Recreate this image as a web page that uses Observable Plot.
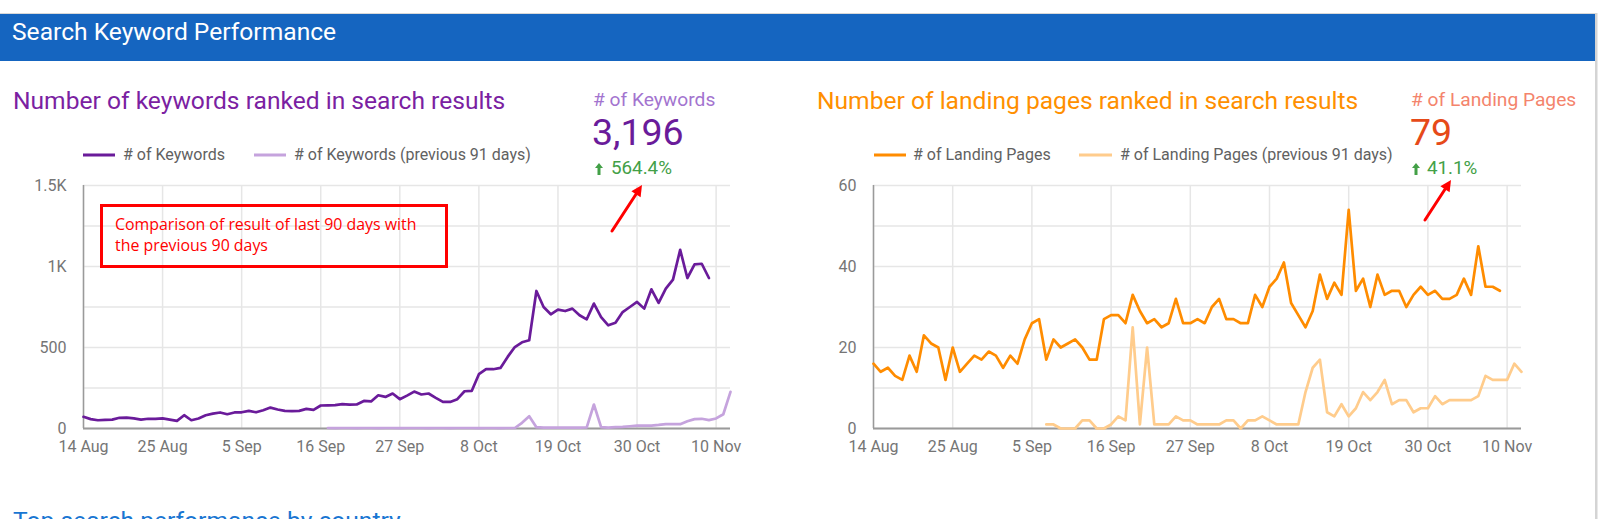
<!DOCTYPE html>
<html><head><meta charset="utf-8">
<script src="https://cdn.jsdelivr.net/npm/d3@7"></script>
<script src="https://cdn.jsdelivr.net/npm/@observablehq/plot@0.6"></script>
<style>
html,body{margin:0;padding:0;background:#fff;}
#page{position:relative;width:1600px;height:519px;overflow:hidden;font-family:Roboto,sans-serif;}
.chart{position:absolute;top:170px;}
#overlay{position:absolute;left:0;top:0;pointer-events:none;}
#overlay text{font-family:Roboto,sans-serif;}
</style></head><body><div id="page">
<div id="left" class="chart" style="left:0px"></div>
<div id="right" class="chart" style="left:790px"></div>
<svg id="overlay" width="1600" height="519"></svg>
</div>
<script>
// ---------- data ----------
const domainDates = ["2019-08-14", "2019-11-12"];
const xTickDates = ["2019-08-14","2019-08-25","2019-09-05","2019-09-16","2019-09-27","2019-10-08","2019-10-19","2019-10-30","2019-11-10"];
const xTickLabels = ["14 Aug","25 Aug","5 Sep","16 Sep","27 Sep","8 Oct","19 Oct","30 Oct","10 Nov"];

const keywordsStart = "2019-08-14";
const keywords = [72,58,51,53,55,66,67,62,55,60, 60,62,55,47,82,51,62,82,92,99,
  88,99,100,109,100,113,129,117,109,107, 109,121,115,142,143,144,150,147,148,170,
  167,205,195,216,181,203,228,210,216,189, 164,164,181,230,232,335,366,366,374,442,
  503,532,545,849,750,705,734,725,740,699, 674,771,688,637,653,719,750,781,740,859,
  775,863,919,1103,929,1013,1017,929];
const keywordsPrevStart = "2019-09-17";
const keywordsPrev = [3,2,3,3,2,3,3,2,3,3, 2,3,3,3,2,3,3,2,3,3, 3,2,3,3,2,3,
  3,35,76,8,6,6,5,6,6,6, 7,148,8,6,8,10,14,18,18,18, 22,27,27,27,45,58,60,52,62,88,226];
const yTicksLeft = [0,500,1000,1500];
const yLabelsLeft = ["0","500","1K","1.5K"];
const yGridLeft = [0,250,500,750,1000,1250,1500];

const pagesStart = "2019-08-14";
const pages = [16,14,15,13,12,18,14,23,21,20, 12,20,14,16,18,17,19,18,15,18,
  16,22,26,27,17,22,20,21,22,20, 17,17,27,28,28,26,33,29,26,27,
  25,26,32,26,26,27,26,30,32,27, 27,26,26,33,30,35,37,41,31,28,
  25,29,38,32,36,33,54,34,37,30, 38,33,34,34,30,33,35,33,34,32,
  32,33,37,33,45,35,35,34];
const pagesPrevStart = "2019-09-07";
const pagesPrev = [1,1,0,0,0,2,2,0,0,1, 3,2,25,1,20,1,1,1,3,2,
  2,1,1,1,1,2,2,0,2,2, 3,2,1,1,1,1,9,15,17,4,
  3,6,3,5,9,7,9,12,6,7, 7,4,5,5,8,6,7,7,7,7, 8,13,12,12,12,16,14];
const yTicksRight = [0,20,40,60];
const yLabelsRight = ["0","20","40","60"];
const yGridRight = [0,10,20,30,40,50,60];

// ---------- helpers ----------
const toDate = s => new Date(s + "T00:00:00Z");
function series(startStr, values) {
  const t0 = toDate(startStr).getTime();
  return values.map((v, i) => ({date: new Date(t0 + i * 864e5), value: v}));
}
const tickDates = xTickDates.map(toDate);
const tickLabelMap = new Map(tickDates.map((d, i) => [+d, xTickLabels[i]]));

function chart(cur, prev, curColor, prevColor, yDomain, yTicks, yLabels, yGrid, marginRight) {
  return Plot.plot({
    width: 780, height: 290,
    marginLeft: 83, marginRight, marginTop: 15, marginBottom: 32,
    style: {fontFamily: "Roboto, sans-serif", fontSize: "16px", color: "#757575", background: "transparent", overflow: "visible"},
    x: {type: "utc", domain: domainDates.map(toDate), label: null},
    y: {domain: yDomain, label: null},
    marks: [
      Plot.gridY(yGrid, {stroke: "#e6e6e6", strokeOpacity: 1, strokeWidth: 1.5}),
      Plot.gridX(tickDates, {stroke: "#e6e6e6", strokeOpacity: 1, strokeWidth: 1.5}),
      Plot.ruleY([yDomain[0]], {stroke: "#9a9a9a", strokeWidth: 2}),
      Plot.ruleX([toDate(domainDates[0])], {stroke: "#9a9a9a", strokeWidth: 1.5}),
      Plot.line(prev, {x: "date", y: "value", stroke: prevColor, strokeWidth: 2.7}),
      Plot.line(cur, {x: "date", y: "value", stroke: curColor, strokeWidth: 2.7}),
      Plot.axisX(tickDates, {tickSize: 0, tickPadding: 12, label: null, tickFormat: d => tickLabelMap.get(+d), fill: "#757575"}),
      Plot.axisY(yTicks, {tickSize: 0, tickPadding: 17, label: null, tickFormat: d => yLabels[yTicks.indexOf(d)], fill: "#757575"})
    ]
  });
}

document.getElementById("left").append(
  chart(series(keywordsStart, keywords), series(keywordsPrevStart, keywordsPrev),
        "#6a1b9a", "#c5a3dd", [0,1500], yTicksLeft, yLabelsLeft, yGridLeft, 50));
document.getElementById("right").append(
  chart(series(pagesStart, pages), series(pagesPrevStart, pagesPrev),
        "#ff8c00", "#ffcc8c", [0,60], yTicksRight, yLabelsRight, yGridRight, 49));

// ---------- overlay: header, titles, KPIs, legends, annotations ----------
const ov = d3.select("#overlay");
ov.append("rect").attr("x", 0).attr("y", 13).attr("width", 1596).attr("height", 1).attr("fill", "#d8d8d8");
ov.append("rect").attr("x", 0).attr("y", 14).attr("width", 1595).attr("height", 47).attr("fill", "#1565c0");
ov.append("rect").attr("x", 1595).attr("y", 13).attr("width", 2.5).attr("height", 506).attr("fill", "#d4d4d4");

function txt(x, y, s, size, fill, extra) {
  const t = ov.append("text").attr("x", x).attr("y", y).attr("font-size", size).attr("fill", fill).text(s);
  if (extra) extra(t);
  return t;
}
txt(12, 40, "Search Keyword Performance", 24.6, "#ffffff");
txt(13, 109, "Number of keywords ranked in search results", 24.6, "#7b1fa2");
txt(817, 109, "Number of landing pages ranked in search results", 24.6, "#ff8f00");

// KPIs
function upArrow(x, y) {
  ov.append("path").attr("fill", "#43a047")
    .attr("d", `M${x},${y+5} L${x+4},${y} L${x+8},${y+5} L${x+5.5},${y+5} L${x+5.5},${y+12} L${x+2.5},${y+12} L${x+2.5},${y+5} Z`);
}
txt(593, 106, "# of Keywords", 19.2, "#a374cf");
txt(592, 145, "3,196", 37.5, "#6a1b9a");
upArrow(595, 163);
txt(611, 174, "564.4%", 18.8, "#43a047");

txt(1411, 106, "# of Landing Pages", 19.2, "#f4846c");
txt(1410, 145, "79", 37.5, "#e64a19");
upArrow(1412, 163);
txt(1427, 174, "41.1%", 18.8, "#43a047");

// legends
function legendItem(x0, x1, tx, label, color) {
  ov.append("rect").attr("x", x0).attr("y", 153.5).attr("width", x1 - x0).attr("height", 3).attr("fill", color);
  txt(tx, 160, label, 16, "#616161");
}
legendItem(83, 115, 123, "# of Keywords", "#6a1b9a");
legendItem(254, 286, 294, "# of Keywords (previous 91 days)", "#c5a3dd");
legendItem(874, 906, 913, "# of Landing Pages", "#ff8c00");
legendItem(1079, 1112, 1120, "# of Landing Pages (previous 91 days)", "#ffcc8c");

// annotation box
ov.append("rect").attr("x", 101.5).attr("y", 205.5).attr("width", 345).attr("height", 61)
  .attr("fill", "none").attr("stroke", "#ff0000").attr("stroke-width", 3);
const note1 = txt(115, 230, "Comparison of result of last 90 days with", 15.9, "#ff0000");
const note2 = txt(115, 251, "the previous 90 days", 15.9, "#ff0000");
note1.style("font-family", "'Open Sans', sans-serif");
note2.style("font-family", "'Open Sans', sans-serif");

// red arrows
function redArrow(x0, y0, x1, y1) {
  const a = Math.atan2(y1 - y0, x1 - x0), L = 11, W = 5.5;
  const bx = x1 - L * Math.cos(a), by = y1 - L * Math.sin(a);
  ov.append("line").attr("x1", x0).attr("y1", y0).attr("x2", bx).attr("y2", by)
    .attr("stroke", "#ff0000").attr("stroke-width", 3).attr("stroke-linecap", "round");
  const px = -Math.sin(a) * W, py = Math.cos(a) * W;
  ov.append("path").attr("fill", "#ff0000")
    .attr("d", `M${x1},${y1} L${bx + px},${by + py} L${bx - px},${by - py} Z`);
}
redArrow(612, 231, 642, 185);
redArrow(1425, 220, 1451, 180);

// next section title (cut off at bottom edge, as in the reference)
txt(13, 529, "Top search performance by country", 24.6, "#1976d2");
</script>
</body></html>
